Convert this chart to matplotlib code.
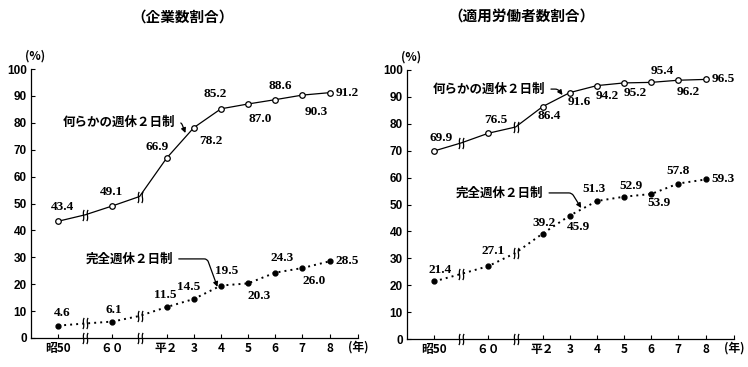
import numpy as np
import matplotlib
matplotlib.use('Agg')
from matplotlib import pyplot as plt
from matplotlib.path import Path

JP = ['Noto Sans CJK JP', 'DejaVu Sans']
NUM = ['Liberation Serif', 'DejaVu Serif']

# x positions on the (broken) time axis, breaks sit at 1 and 3
pos = [0, 2, 4, 5, 6, 7, 8, 9, 10]
break_pos = [1, 3]
xlabels = ['昭50', '６０', '平２', '3', '4', '5', '6', '7', '8']

# 企業数割合
firm_any = [43.4, 49.1, 66.9, 78.2, 85.2, 87.0, 88.6, 90.3, 91.2]
firm_full = [4.6, 6.1, 11.5, 14.5, 19.5, 20.3, 24.3, 26.0, 28.5]
firm_any_break = [45.8, 52.6]
firm_full_break = [5.4, 8.2]

# 適用労働者数割合
work_any = [69.9, 76.5, 86.4, 91.6, 94.2, 95.2, 95.4, 96.2, 96.5]
work_full = [21.4, 27.1, 39.2, 45.9, 51.3, 52.9, 53.9, 57.8, 59.3]
work_any_break = [72.9, 78.8]
work_full_break = [24.2, 32.0]

# label offsets (pixels) per point
firm_any_off = [(4, 14), (-1, 14), (-10, 11), (17, -13), (-6, 15), (12, -15), (5, 14), (14, -17), None]
firm_full_off = [(4, 13), (1, 12), (-1, 12), (-5, 12), (6, 15), (11, -13), (7, 15), (12, -13), None]
work_any_off = [(7, 13), (7, 13), (7, -9), (9, -9), (10, -10), (11, -10), (11, 11), (10, -12), None]
work_full_off = [(6, 11), (5, 15), (1, 11), (9, -11), (-3, 12), (7, 11), (8, -9), (0, 13), None]

# "≀≀" break symbol
verts, codes = [], []
for cx in (-0.35, 0.35):
    verts += [(cx - 0.12, -1), (cx + 0.3, -0.35), (cx - 0.3, 0.35), (cx + 0.12, 1)]
    codes += [Path.MOVETO, Path.CURVE4, Path.CURVE4, Path.CURVE4]
BREAK = Path(verts, codes)


def merge(vals, brk):
    xs = sorted(pos + break_pos)
    d = dict(zip(pos, vals))
    d.update(zip(break_pos, brk))
    return xs, [d[x] for x in xs]


def draw_series(ax, vals, brk, offs, full):
    xs, ys = merge(vals, brk)
    if full:
        ax.plot(xs, ys, color='black', lw=1.4, ls=(0, (1, 2.1)), zorder=2)
        ax.plot(pos, vals, 'o', ms=3.5, color='black', zorder=3)
    else:
        ax.plot(xs, ys, color='black', lw=0.9, zorder=2)
        ax.plot(pos, vals, 'o', ms=4, mfc='white', mec='black', mew=0.9, zorder=3)
    ax.plot(break_pos, brk, ls='none', marker=BREAK, ms=8, mfc='none', mec='black', mew=0.9, zorder=4)
    for x, v, o in zip(pos, vals, offs):
        if o is None:
            ax.annotate(f'{v:.1f}', (x, v), xytext=(6, 0), textcoords='offset pixels',
                        ha='left', va='center', fontsize=9.5, fontweight='bold', family=NUM)
        else:
            ax.annotate(f'{v:.1f}', (x, v), xytext=o, textcoords='offset pixels',
                        ha='center', va='center', fontsize=9.5, fontweight='bold', family=NUM)


def callout(ax, text, txt_xy, tip_xy, angle):
    ax.annotate(text, tip_xy, xytext=txt_xy, ha='right', va='center',
                fontsize=9, fontweight='bold', family=JP,
                arrowprops=dict(arrowstyle='-|>', color='black', lw=0.9, mutation_scale=7,
                                relpos=(1, 0.5), shrinkA=2, shrinkB=0,
                                connectionstyle=f'angle,angleA=0,angleB={angle},rad=3'))


def setup(ax):
    ax.set_xlim(-1, 11.05)
    ax.set_ylim(0, 100)
    ax.spines[['top', 'right']].set_visible(False)
    ax.spines[['left', 'bottom']].set_linewidth(0.9)
    ax.set_yticks(range(0, 101, 10))
    ax.set_xticks(pos + [11.05])
    ax.set_xticklabels(xlabels + [''])
    ax.tick_params(direction='in', length=3, width=0.8, pad=3)
    for t in ax.get_yticklabels():
        t.set_fontfamily(['Liberation Sans', 'DejaVu Sans'])
        t.set_fontweight('bold')
        t.set_fontsize(8.5)
    for t in ax.get_xticklabels():
        t.set_fontfamily(JP)
        t.set_fontweight('bold')
        t.set_fontsize(8.5)
    ax.plot(break_pos, [0, 0], ls='none', marker=BREAK, ms=8, mfc='none', mec='black',
            mew=0.9, clip_on=False, zorder=4)
    ax.annotate('(%)', (0, 1), xycoords='axes fraction', xytext=(4, 13), textcoords='offset pixels',
                ha='center', va='center', fontsize=8.5, fontweight='bold', family=JP)
    ax.annotate('(年)', (1, 0), xycoords='axes fraction', xytext=(0, -9), textcoords='offset pixels',
                ha='center', va='center', fontsize=8.5, fontweight='bold', family=JP)


fig = plt.figure(figsize=(7.48, 3.67), dpi=100)
ax1 = fig.add_axes([31 / 748, 29 / 367, 327 / 748, 269 / 367])
ax2 = fig.add_axes([407 / 748, 28 / 367, 327 / 748, 269 / 367])

setup(ax1)
draw_series(ax1, firm_any, firm_any_break, firm_any_off, False)
draw_series(ax1, firm_full, firm_full_break, firm_full_off, True)
callout(ax1, '何らかの週休２日制', (4.32, 80.2), (4.69, 76.2), 111)
callout(ax1, '完全週休２日制', (4.24, 29.4), (5.87, 19.0), 110)

setup(ax2)
draw_series(ax2, work_any, work_any_break, work_any_off, False)
draw_series(ax2, work_full, work_full_break, work_full_off, True)
callout(ax2, '何らかの週休２日制', (4.10, 92.9), (4.73, 90.7), 126)
callout(ax2, '完全週休２日制', (4.03, 54.3), (5.42, 48.7), 122)

fig.text(183 / 748, 1 - 17 / 367, '（企業数割合）', ha='center', va='center',
         fontsize=10.5, fontweight='bold', family=JP)
fig.text(521 / 748, 1 - 17 / 367, '（適用労働者数割合）', ha='center', va='center',
         fontsize=10.5, fontweight='bold', family=JP)

fig.savefig('out.png', dpi=100)
